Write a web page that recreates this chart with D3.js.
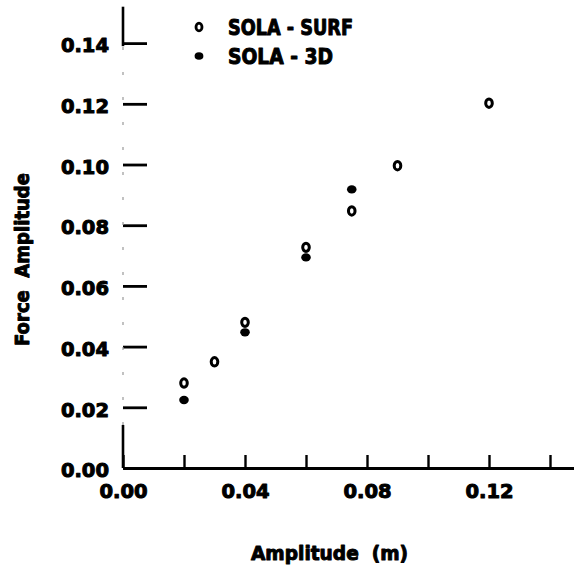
<!DOCTYPE html>
<html>
<head>
<meta charset="utf-8">
<script src="https://cdn.jsdelivr.net/npm/d3@7"></script>
<style>
  html, body { margin: 0; padding: 0; background: #fff; }
  svg { display: block; }
  text { font-family: "DejaVu Sans", sans-serif; font-weight: bold; fill: #000; stroke: #000; stroke-width: 1; stroke-linejoin: round; }
</style>
</head>
<body>
<div id="chart"></div>
<script>
// ---- data ----
const xTickValues = [0, 0.02, 0.04, 0.06, 0.08, 0.10, 0.12, 0.14];
const xTickLabels = ["0.00", "", "0.04", "", "0.08", "", "0.12", ""];
const yTickValues = [0, 0.02, 0.04, 0.06, 0.08, 0.10, 0.12, 0.14];
const yTickLabels = ["0.00", "0.02", "0.04", "0.06", "0.08", "0.10", "0.12", "0.14"];

const seriesNames = ["SOLA - SURF", "SOLA - 3D"];
const surfAmplitude = [0.02, 0.03, 0.04, 0.06, 0.075, 0.09, 0.12];
const surfForce     = [0.028, 0.035, 0.048, 0.0727, 0.0847, 0.0996, 0.1202];
const sola3dAmplitude = [0.02, 0.04, 0.06, 0.075];
const sola3dForce     = [0.0224, 0.0447, 0.0694, 0.0918];

const xTitle = "Amplitude  (m)";
const yTitle = "Force  Amplitude";

// ---- drawing ----
const W = 574, H = 571;
const svg = d3.select("#chart").append("svg").attr("width", W).attr("height", H);

const x = d3.scaleLinear().domain([0, 0.148]).range([123, 574.4]);
const y = d3.scaleLinear().domain([0, 0.152]).range([468, 6.7]);

const FS = 19.5;

// X axis
const xAxis = d3.axisBottom(x)
  .tickValues(xTickValues)
  .tickFormat((d, i) => xTickLabels[i])
  .tickSizeInner(-13)
  .tickSizeOuter(0)
  .tickPadding(16);
const gx = svg.append("g").attr("transform", `translate(0,${y(0)})`).call(xAxis);
gx.select(".domain").attr("stroke", "#000").attr("stroke-width", 2.8);
gx.selectAll(".tick line").attr("stroke", "#000").attr("stroke-width", 2.4);
gx.selectAll(".tick text").attr("font-size", FS).attr("font-family", "DejaVu Sans").attr("font-weight", "bold");

// Y axis
const yAxis = d3.axisLeft(y)
  .tickValues(yTickValues)
  .tickFormat((d, i) => yTickLabels[i])
  .tickSizeInner(-24)
  .tickSizeOuter(0)
  .tickPadding(14);
const gy = svg.append("g").attr("transform", `translate(${x(0)},0)`).call(yAxis);
gy.select(".domain").remove();
gy.selectAll(".tick line").attr("stroke", "#000").attr("stroke-width", 2.8);
gy.selectAll(".tick text").attr("font-size", FS).attr("font-family", "DejaVu Sans").attr("font-weight", "bold").attr("dy", "0.45em");

// y axis line: solid at ends, faded (scanned) in between
svg.append("line").attr("x1", x(0)).attr("x2", x(0)).attr("y1", y(0)).attr("y2", y(0.0142))
  .attr("stroke", "#000").attr("stroke-width", 2.6);
svg.append("line").attr("x1", x(0)).attr("x2", x(0)).attr("y1", y(0.139)).attr("y2", y(0.152))
  .attr("stroke", "#000").attr("stroke-width", 2.6);
svg.append("line").attr("x1", x(0)).attr("x2", x(0)).attr("y1", y(0.0142)).attr("y2", y(0.139))
  .attr("stroke", "#999").attr("stroke-width", 1.2).attr("stroke-dasharray", "3,22");

// Points
const surf = surfAmplitude.map((a, i) => ({a, f: surfForce[i]}));
const s3d = sola3dAmplitude.map((a, i) => ({a, f: sola3dForce[i]}));

svg.append("g").selectAll("ellipse").data(surf).join("ellipse")
  .attr("cx", d => x(d.a)).attr("cy", d => y(d.f))
  .attr("rx", 3.3).attr("ry", 4.2)
  .attr("fill", "none").attr("stroke", "#000").attr("stroke-width", 3);

svg.append("g").selectAll("ellipse").data(s3d).join("ellipse")
  .attr("cx", d => x(d.a)).attr("cy", d => y(d.f))
  .attr("rx", 4.8).attr("ry", 4.2)
  .attr("fill", "#000");

// Legend
const leg = svg.append("g");
leg.append("ellipse").attr("cx", 199).attr("cy", 27).attr("rx", 3.0).attr("ry", 3.9)
  .attr("fill", "none").attr("stroke", "#000").attr("stroke-width", 2.8);
leg.append("ellipse").attr("cx", 199).attr("cy", 56).attr("rx", 4.4).attr("ry", 3.8).attr("fill", "#000");
leg.append("text").attr("x", 228).attr("y", 35).attr("font-size", 20.5)
  .attr("textLength", 125).attr("lengthAdjust", "spacingAndGlyphs")
  .style("white-space", "pre").text(seriesNames[0]);
leg.append("text").attr("x", 228).attr("y", 63.5).attr("font-size", 20.5)
  .attr("textLength", 105).attr("lengthAdjust", "spacingAndGlyphs")
  .style("white-space", "pre").text(seriesNames[1]);

// Axis titles
svg.append("text").attr("x", 251).attr("y", 560).attr("font-size", 19.5)
  .attr("textLength", 157).attr("lengthAdjust", "spacingAndGlyphs")
  .style("white-space", "pre").text(xTitle);

svg.append("text").attr("transform", "translate(28.5,346) rotate(-90)")
  .attr("x", 0).attr("y", 0).attr("font-size", 19.5)
  .attr("textLength", 173).attr("lengthAdjust", "spacingAndGlyphs")
  .style("white-space", "pre").text(yTitle);
</script>
</body>
</html>
